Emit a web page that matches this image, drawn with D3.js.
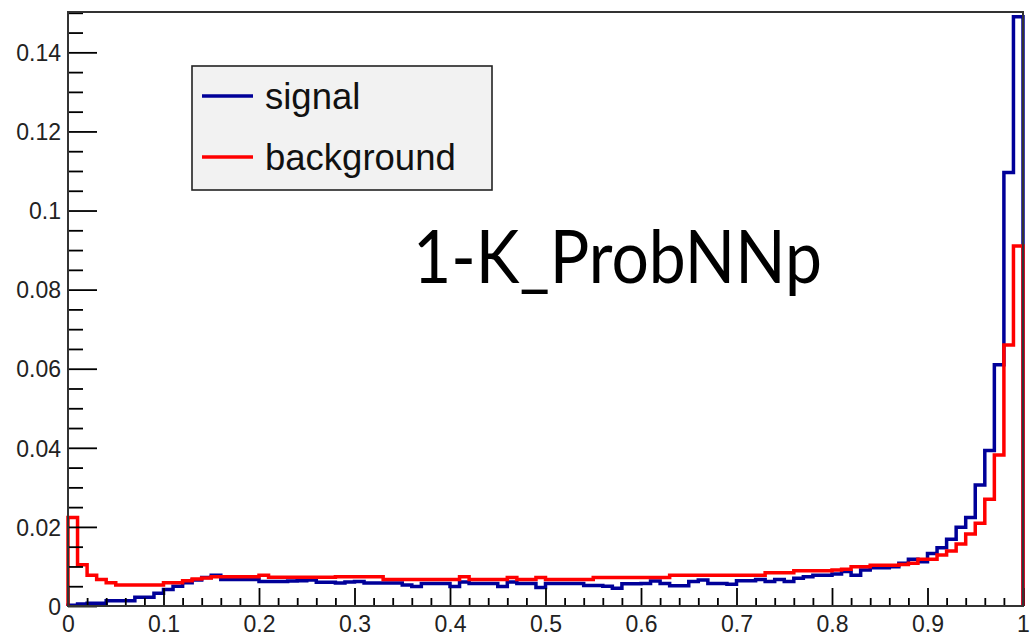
<!DOCTYPE html>
<html>
<head>
<meta charset="utf-8">
<script src="https://cdn.jsdelivr.net/npm/d3@7"></script>
<style>
    body { margin: 0; background: #fff; }
    svg { display: block; }
</style>
</head>
<body>
<div id="chart"></div>
<script>
// 100 bins of width 0.01 on [0, 1]
var binWidth = 0.01;

var signal = [
    0.0002, 0.0005, 0.0007, 0.0007, 0.0013, 0.0013, 0.0013, 0.0022, 0.0022, 0.0032,
    0.0042, 0.0050, 0.0059, 0.0066, 0.0072, 0.0078, 0.0067, 0.0067, 0.0067, 0.0067,
    0.0062, 0.0062, 0.0062, 0.0063, 0.0064, 0.0066, 0.0060, 0.0060, 0.0058, 0.0061,
    0.0062, 0.0058, 0.0058, 0.0058, 0.0058, 0.0053, 0.0049, 0.0057, 0.0057, 0.0057,
    0.0049, 0.0061, 0.0057, 0.0057, 0.0057, 0.0049, 0.0061, 0.0057, 0.0057, 0.0047,
    0.0057, 0.0057, 0.0057, 0.0057, 0.0052, 0.0052, 0.0050, 0.0045, 0.0056, 0.0056,
    0.0057, 0.0063, 0.0057, 0.0051, 0.0051, 0.0062, 0.0066, 0.0057, 0.0057, 0.0055,
    0.0064, 0.0064, 0.0067, 0.0062, 0.0067, 0.0062, 0.0070, 0.0074, 0.0078, 0.0078,
    0.0081, 0.0087, 0.0078, 0.0091, 0.0097, 0.0097, 0.0099, 0.0108, 0.0118, 0.0112,
    0.0133, 0.0147, 0.0169, 0.0199, 0.0224, 0.0306, 0.0393, 0.0610, 0.1096, 0.1490
];

var background = [
    0.0224, 0.0104, 0.0078, 0.0067, 0.0059, 0.0053, 0.0053, 0.0053, 0.0053, 0.0053,
    0.0059, 0.0059, 0.0064, 0.0068, 0.0071, 0.0074, 0.0074, 0.0074, 0.0074, 0.0074,
    0.0078, 0.0073, 0.0073, 0.0073, 0.0073, 0.0073, 0.0073, 0.0073, 0.0074, 0.0074,
    0.0074, 0.0074, 0.0074, 0.0067, 0.0067, 0.0067, 0.0067, 0.0067, 0.0067, 0.0067,
    0.0067, 0.0074, 0.0067, 0.0067, 0.0067, 0.0067, 0.0072, 0.0067, 0.0067, 0.0072,
    0.0067, 0.0067, 0.0067, 0.0067, 0.0067, 0.0072, 0.0072, 0.0072, 0.0072, 0.0072,
    0.0072, 0.0072, 0.0072, 0.0078, 0.0078, 0.0078, 0.0078, 0.0078, 0.0078, 0.0078,
    0.0078, 0.0078, 0.0078, 0.0084, 0.0084, 0.0084, 0.0089, 0.0089, 0.0089, 0.0089,
    0.0091, 0.0093, 0.0099, 0.0099, 0.0103, 0.0103, 0.0103, 0.0105, 0.0108, 0.0118,
    0.0118, 0.0129, 0.0139, 0.0157, 0.0182, 0.0209, 0.0270, 0.0382, 0.0660, 0.0910
];

var xMajorTicks = [0, 0.1, 0.2, 0.3, 0.4, 0.5, 0.6, 0.7, 0.8, 0.9, 1];
var yMajorTicks = [0, 0.02, 0.04, 0.06, 0.08, 0.1, 0.12, 0.14];

var legendItems = [
    { label: 'signal', color: '#000099' },
    { label: 'background', color: '#ff0000' }
];

var title = '1-K_ProbNNp';

var width = 1030, height = 639;
var frameLeft = 68, frameRight = 1023, frameTop = 12, frameBottom = 606;

var svg = d3.select('#chart').append('svg')
    .attr('width', width)
    .attr('height', height);

var x = d3.scaleLinear().domain([0, 1]).range([frameLeft, frameRight]);
var y = d3.scaleLinear().domain([0, 0.1502]).range([frameBottom, frameTop]);

function fmt(d) { return String(+d.toFixed(3)); }

// minor ticks
var xMinor = d3.range(0, 1.0001, 0.02).filter(function (d) { return Math.abs(d * 10 - Math.round(d * 10)) > 1e-6; });
var yMinor = d3.range(0, 0.1501, 0.005).filter(function (d) { return Math.abs(d * 50 - Math.round(d * 50)) > 1e-6; });

var axisStyle = function (g) {
    g.select('.domain').remove();
    g.selectAll('line').attr('stroke', '#000').attr('stroke-width', 1.8);
    g.selectAll('text')
        .attr('fill', '#222')
        .style('font-family', '"Liberation Sans", Arial, sans-serif')
        .style('font-size', '23px');
};

// histograms as step outlines
var stepLine = d3.line()
    .x(function (d) { return x(d[0]); })
    .y(function (d) { return y(d[1]); })
    .curve(d3.curveStepAfter);

function histPoints(values) {
    var pts = [[0, 0]];
    values.forEach(function (v, i) { pts.push([i * binWidth, v]); });
    pts.push([values.length * binWidth, values[values.length - 1]]);
    pts.push([values.length * binWidth, 0]);
    return pts;
}

svg.append('path')
    .datum(histPoints(signal))
    .attr('d', stepLine)
    .attr('fill', 'none')
    .attr('stroke', legendItems[0].color)
    .attr('stroke-width', 3.5);

svg.append('path')
    .datum(histPoints(background))
    .attr('d', stepLine)
    .attr('fill', 'none')
    .attr('stroke', legendItems[1].color)
    .attr('stroke-width', 3.5);

svg.append('g')
    .attr('transform', 'translate(0,' + frameBottom + ')')
    .call(d3.axisBottom(x).tickValues(xMinor).tickSize(-8).tickFormat(''))
    .call(axisStyle);

svg.append('g')
    .attr('transform', 'translate(0,' + frameBottom + ')')
    .call(d3.axisBottom(x).tickValues(xMajorTicks).tickSize(-18).tickSizeOuter(0).tickFormat(fmt))
    .call(axisStyle)
    .call(function (g) {
        g.selectAll('text').attr('y', 26).attr('dy', 0);
    });

svg.append('g')
    .attr('transform', 'translate(' + frameLeft + ',0)')
    .call(d3.axisLeft(y).tickValues(yMinor).tickSize(-15).tickFormat(''))
    .call(axisStyle);

svg.append('g')
    .attr('transform', 'translate(' + frameLeft + ',0)')
    .call(d3.axisLeft(y).tickValues(yMajorTicks).tickSize(-29).tickSizeOuter(0).tickPadding(7).tickFormat(fmt))
    .call(axisStyle)
    .call(function (g) {
        g.selectAll('text').attr('dy', '0.36em');
    });

// frame
svg.append('rect')
    .attr('x', frameLeft)
    .attr('y', frameTop)
    .attr('width', frameRight - frameLeft)
    .attr('height', frameBottom - frameTop)
    .attr('fill', 'none')
    .attr('stroke', '#333')
    .attr('stroke-width', 2);

// legend
var legend = svg.append('g');
legend.append('rect')
    .attr('x', 192).attr('y', 66)
    .attr('width', 300).attr('height', 124)
    .attr('fill', '#f2f2f2')
    .attr('stroke', '#222')
    .attr('stroke-width', 1.6);

legendItems.forEach(function (item, i) {
    var cy = 96 + i * 61;
    legend.append('line')
        .attr('x1', 202).attr('x2', 253)
        .attr('y1', cy).attr('y2', cy)
        .attr('stroke', item.color)
        .attr('stroke-width', 3.5);
    legend.append('text')
        .attr('x', 265)
        .attr('y', cy + 13)
        .attr('fill', '#111')
        .style('font-family', '"Liberation Sans", Arial, sans-serif')
        .style('font-size', '36.5px')
        .text(item.label);
});

// variable name label
svg.append('text')
    .attr('x', 413)
    .attr('y', 283)
    .attr('textLength', 409)
    .attr('lengthAdjust', 'spacingAndGlyphs')
    .attr('fill', '#000')
    .style('font-family', 'Lato, "Open Sans", sans-serif')
    .style('font-size', '74px')
    .text(title);
</script>
</body>
</html>
